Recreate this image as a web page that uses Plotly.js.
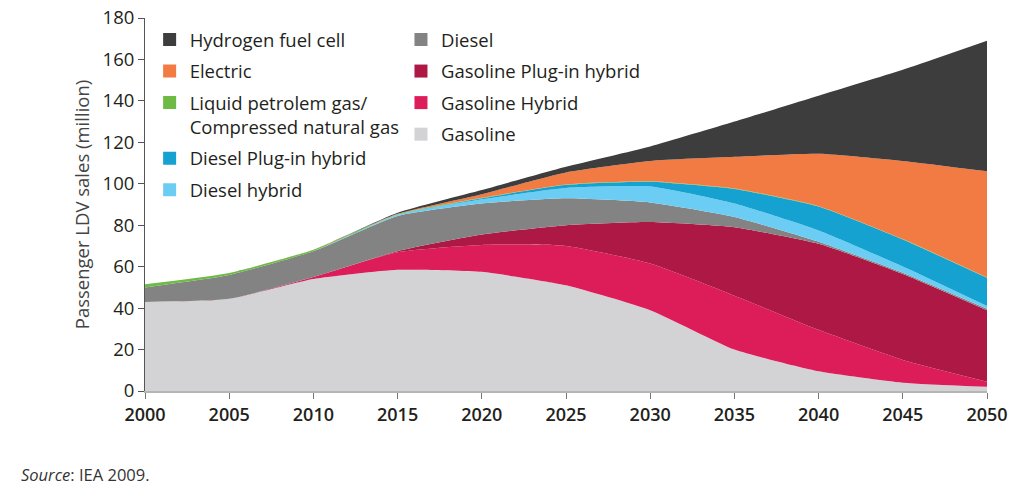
<!DOCTYPE html>
<html><head><meta charset="utf-8">
<script src="https://cdn.plot.ly/plotly-3.0.1.min.js"></script>
<style>html,body{margin:0;padding:0;background:#fff}#chart{width:1024px;height:503px}</style>
</head><body><div id="chart"></div>
<script>
const years = [2000, 2005, 2010, 2015, 2020, 2025, 2030, 2035, 2040, 2045, 2050];
const gasoline        = [43, 44.5, 54, 58.5, 57.5, 51, 39, 20, 9.5, 4, 2];
const gasolineHybrid  = [0, 0, 1, 8.5, 13, 19, 22.5, 26, 20, 11, 2.5];
const gasolinePlugIn  = [0, 0, 0, 0.5, 5, 10, 20, 33, 41.5, 41.5, 34.5];
const diesel          = [7, 11.5, 12.5, 17, 15, 13, 9.5, 5, 1, 0.6, 0.7];
const dieselHybrid    = [0, 0, 0, 0.5, 2, 5, 7.7, 6.5, 5.5, 3, 1.3];
const dieselPlugIn    = [0, 0, 0, 0, 0.5, 1.5, 2.3, 7, 11.5, 13, 13.6];
const lpgCng          = [1.5, 1, 0.7, 0.3, 0.2, 0.2, 0.2, 0.2, 0.2, 0.2, 0.2];
const electric        = [0, 0, 0, 0.2, 1.8, 5.8, 9.8, 15.3, 25.3, 37.7, 51.2];
const hydrogen        = [0, 0, 0, 0.5, 2, 2.7, 7, 17, 28, 44, 63];

const yTicks = [0, 20, 40, 60, 80, 100, 120, 140, 160, 180];
const xTicks = years;

const series = [
  {name: 'Gasoline', y: gasoline, color: '#d3d3d5', legend: 'legend2'},
  {name: 'Gasoline Hybrid', y: gasolineHybrid, color: '#dc1d5a', legend: 'legend2'},
  {name: 'Gasoline Plug-in hybrid', y: gasolinePlugIn, color: '#ad1845', legend: 'legend2'},
  {name: 'Diesel', y: diesel, color: '#838383', legend: 'legend2'},
  {name: 'Diesel hybrid', y: dieselHybrid, color: '#6ccdf4', legend: 'legend'},
  {name: 'Diesel Plug-in hybrid', y: dieselPlugIn, color: '#15a2d0', legend: 'legend'},
  {name: 'Liquid petrolem gas/<br>Compressed natural gas', y: lpgCng, color: '#6dbb45', legend: 'legend'},
  {name: 'Electric', y: electric, color: '#f27b44', legend: 'legend'},
  {name: 'Hydrogen fuel cell', y: hydrogen, color: '#3d3d3d', legend: 'legend'}
];

const traces = [];
series.forEach(s => {
  traces.push({
    type: 'scatter', x: years, y: s.y, name: s.name,
    stackgroup: 'one', mode: 'lines',
    line: {width: 0, shape: 'spline', smoothing: 0.5},
    fillcolor: s.color, showlegend: false, hoverinfo: 'skip'
  });
});
// legend entries (square swatches)
const leftOrder = ['Hydrogen fuel cell', 'Electric', 'Liquid petrolem gas/<br>Compressed natural gas', 'Diesel Plug-in hybrid', 'Diesel hybrid'];
const rightOrder = ['Diesel', 'Gasoline Plug-in hybrid', 'Gasoline Hybrid', 'Gasoline'];
[...leftOrder, ...rightOrder].forEach(n => {
  const s = series.find(q => q.name === n);
  traces.push({
    type: 'scatter', x: [null], y: [null], name: n, mode: 'markers',
    marker: {symbol: 'square', size: 13, color: s.color},
    legend: s.legend, legendgroup: n, showlegend: true, hoverinfo: 'skip'
  });
});

const FONT = '"Open Sans", "Noto Sans", sans-serif';
const legendBase = {
  orientation: 'v', traceorder: 'grouped', tracegroupgap: 4.5,
  font: {family: FONT, size: 18.5, color: '#231f20'},
  bgcolor: 'rgba(0,0,0,0)', borderwidth: 0, itemwidth: 30,
  xanchor: 'left', yanchor: 'top', valign: 'top'
};

const layout = {
  width: 1024, height: 503,
  margin: {l: 145, r: 37, t: 18, b: 112},
  paper_bgcolor: '#fff', plot_bgcolor: '#fff',
  font: {family: FONT, size: 18, color: '#231f20'},
  showlegend: true,
  legend: Object.assign({}, legendBase, {x: 0.0055, y: 0.992}),
  legend2: Object.assign({}, legendBase, {x: 0.304, y: 0.992}),
  xaxis: {
    range: [2000, 2050], tickvals: xTicks, ticktext: xTicks.map(String),
    ticks: 'outside', ticklen: 6, tickcolor: '#777', tickwidth: 1,
    showline: true, linecolor: '#b5b5b5', linewidth: 2,
    showgrid: false, zeroline: false,
    tickfont: {family: FONT, size: 18, color: '#231f20', weight: 600}
  },
  yaxis: {
    range: [0, 180], tickvals: yTicks,
    ticks: 'outside', ticklen: 6, tickcolor: '#555', tickwidth: 1,
    showline: true, linecolor: '#555', linewidth: 1,
    showgrid: false, zeroline: false,
    tickfont: {family: FONT, size: 18.5, color: '#231f20'},
    title: {text: 'Passenger LDV sales (million)', font: {family: FONT, size: 18.5, color: '#444'}, standoff: 8}
  },
  annotations: [{
    xref: 'paper', yref: 'paper', x: (19 - 145) / 842, y: (391 - 474) / 373,
    xanchor: 'left', yanchor: 'middle', showarrow: false,
    text: '<i>Source</i>: IEA 2009.', font: {family: FONT, size: 16.5, color: '#333'}
  }]
};

Plotly.newPlot('chart', traces, layout, {displayModeBar: false, staticPlot: true});
</script>
</body></html>
